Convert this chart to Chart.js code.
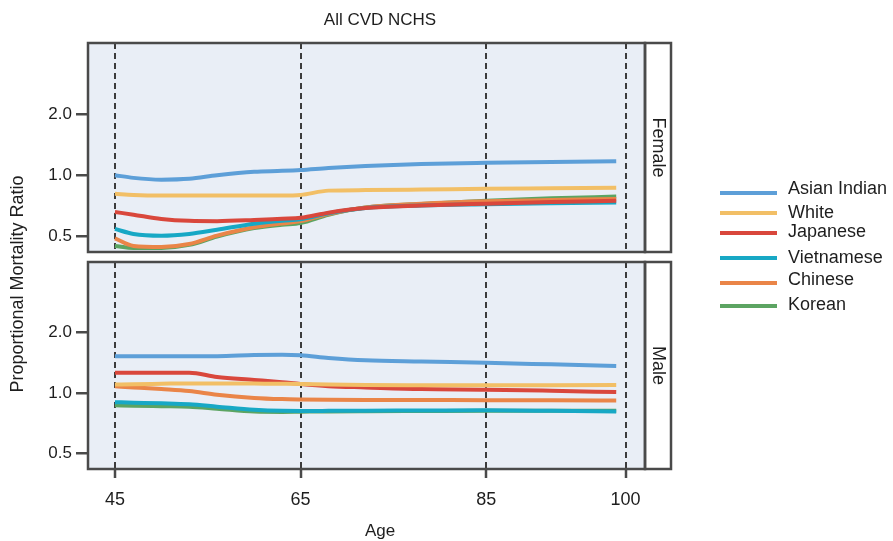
<!DOCTYPE html>
<html><head><meta charset="utf-8">
<script src="https://cdn.jsdelivr.net/npm/chart.js@4.4.1/dist/chart.umd.min.js"></script>
<style>
html,body{margin:0;padding:0;background:#fff;}
#wrap{position:relative;width:893px;height:541px;overflow:hidden;}
canvas{position:absolute;left:0;top:0;}
</style></head><body>
<div id="wrap"><canvas id="cMale" width="893" height="541"></canvas><canvas id="cFemale" width="893" height="541"></canvas></div>
<script>
// ---- data ----
const chartTitle = 'All CVD NCHS';
const xTitle = 'Age';
const yTitle = 'Proportional Mortality Ratio';
const panelLabels = ['Female', 'Male'];
const groups = ['Asian Indian', 'White', 'Japanese', 'Vietnamese', 'Chinese', 'Korean'];
const ages = [45, 47, 50, 53, 56, 60, 63, 65, 68, 72, 78, 85, 92, 99];
const xTicks = [45, 65, 85, 100];
const yTicks = [0.5, 1.0, 2.0];

const femaleAsianIndian = [1.00, 0.97, 0.951, 0.96, 1.00, 1.04, 1.05, 1.06, 1.085, 1.11, 1.135, 1.15, 1.16, 1.17];
const femaleWhite       = [0.81, 0.80, 0.795, 0.795, 0.795, 0.795, 0.795, 0.80, 0.84, 0.845, 0.85, 0.857, 0.862, 0.867];
const femaleJapanese    = [0.66, 0.64, 0.61, 0.597, 0.595, 0.603, 0.612, 0.618, 0.655, 0.69, 0.71, 0.725, 0.738, 0.75];
const femaleVietnamese  = [0.545, 0.515, 0.505, 0.515, 0.54, 0.578, 0.598, 0.608, 0.65, 0.69, 0.71, 0.72, 0.728, 0.735];
const femaleChinese     = [0.49, 0.45, 0.445, 0.46, 0.505, 0.555, 0.58, 0.595, 0.645, 0.695, 0.725, 0.745, 0.755, 0.765];
const femaleKorean      = [0.45, 0.44, 0.44, 0.455, 0.50, 0.55, 0.572, 0.583, 0.64, 0.694, 0.722, 0.75, 0.77, 0.785];

const maleAsianIndian = [1.52, 1.52, 1.52, 1.52, 1.52, 1.54, 1.545, 1.535, 1.49, 1.45, 1.43, 1.41, 1.385, 1.36];
const maleWhite       = [1.10, 1.105, 1.11, 1.115, 1.115, 1.112, 1.11, 1.108, 1.10, 1.095, 1.092, 1.09, 1.092, 1.094];
const maleJapanese    = [1.26, 1.26, 1.26, 1.26, 1.20, 1.16, 1.13, 1.106, 1.08, 1.065, 1.045, 1.038, 1.025, 1.01];
const maleVietnamese  = [0.90, 0.895, 0.888, 0.878, 0.855, 0.825, 0.815, 0.814, 0.815, 0.817, 0.818, 0.82, 0.815, 0.808];
const maleChinese     = [1.078, 1.065, 1.045, 1.022, 0.98, 0.945, 0.932, 0.928, 0.925, 0.923, 0.922, 0.921, 0.92, 0.918];
const maleKorean      = [0.868, 0.865, 0.86, 0.855, 0.835, 0.808, 0.805, 0.807, 0.81, 0.812, 0.814, 0.816, 0.816, 0.817];

const femaleSeries = [femaleAsianIndian, femaleWhite, femaleJapanese, femaleVietnamese, femaleChinese, femaleKorean];
const maleSeries   = [maleAsianIndian, maleWhite, maleJapanese, maleVietnamese, maleChinese, maleKorean];

// ---- styles ----
const colors = ['#5d9fd8', '#f2bf66', '#d9473c', '#17a8c5', '#ea8548', '#5ca462'];
const FONT = '"Liberation Sans", Arial, Helvetica, sans-serif';
const textColor = '#1e1e1e';
const frameColor = '#4a4a4a';
const panelFill = '#e9eef6';
const dashColor = '#3c3c3c';
const W = 893, H = 541;
const plotLeft = 88, plotRight = 645, stripW = 26;
const femaleTop = 43, femaleBottom = 252, maleTop = 262, maleBottom = 469;
const xMin = 42.1, xMax = 102.1, yMin = 0.42, yMax = 4.45;
const legendLineX = [720, 777], legendTextX = 788;
const legendLineY = [193, 213, 233, 258, 283, 306];
const legendTextY = [189, 213, 232, 258, 280, 305];

function makeDatasets(series) {
  return groups.map((g, i) => ({
    label: g,
    data: ages.map((a, k) => ({x: a, y: series[i][k]})),
    borderColor: colors[i],
    backgroundColor: colors[i],
    borderWidth: 4,
    pointRadius: 0,
    fill: false,
    cubicInterpolationMode: 'monotone'
  }));
}

function panelPlugin(label) {
  return {
    id: 'panel_' + label,
    beforeDraw(chart) {
      const a = chart.chartArea, ctx = chart.ctx;
      ctx.save();
      ctx.fillStyle = panelFill;
      ctx.fillRect(a.left, a.top, a.right - a.left, a.bottom - a.top);
      ctx.restore();
    },
    afterDraw(chart) {
      const a = chart.chartArea, ctx = chart.ctx;
      ctx.save();
      ctx.fillStyle = '#ffffff';
      ctx.fillRect(a.right, a.top, stripW, a.bottom - a.top);
      ctx.strokeStyle = frameColor;
      ctx.lineWidth = 2.5;
      ctx.strokeRect(a.left, a.top, a.right - a.left, a.bottom - a.top);
      ctx.strokeRect(a.right, a.top, stripW, a.bottom - a.top);
      ctx.translate(a.right + stripW / 2, (a.top + a.bottom) / 2);
      ctx.rotate(Math.PI / 2);
      ctx.fillStyle = textColor;
      ctx.font = '18px ' + FONT;
      ctx.textAlign = 'center';
      ctx.textBaseline = 'middle';
      ctx.fillText(label, 0, 0);
      ctx.restore();
    }
  };
}

const textPlugin = {
  id: 'texts',
  afterDraw(chart) {
    const ctx = chart.ctx;
    ctx.save();
    ctx.fillStyle = textColor;
    ctx.textAlign = 'center';
    ctx.textBaseline = 'middle';
    ctx.font = '17px ' + FONT;
    ctx.fillText(chartTitle, 380, 20);
    ctx.font = '17px ' + FONT;
    ctx.fillText(xTitle, 380, 531);
    ctx.save();
    ctx.translate(18, 284);
    ctx.rotate(-Math.PI / 2);
    ctx.font = '18px ' + FONT;
    ctx.fillText(yTitle, 0, 0);
    ctx.restore();
    // legend
    ctx.font = '18px ' + FONT;
    ctx.textAlign = 'left';
    chart.data.datasets.forEach((ds, i) => {
      ctx.strokeStyle = ds.borderColor;
      ctx.lineWidth = 4;
      ctx.beginPath();
      ctx.moveTo(legendLineX[0], legendLineY[i]);
      ctx.lineTo(legendLineX[1], legendLineY[i]);
      ctx.stroke();
      ctx.fillStyle = textColor;
      ctx.fillText(ds.label, legendTextX, legendTextY[i]);
    });
    ctx.restore();
  }
};

function yScale() {
  return {
    type: 'logarithmic',
    position: 'left',
    min: yMin, max: yMax,
    afterBuildTicks: s => { s.ticks = yTicks.map(v => ({value: v})); },
    afterFit: s => { s.width = plotLeft; },
    ticks: { callback: v => Number(v).toFixed(1), font: {size: 17, family: FONT}, color: textColor, padding: 4 },
    grid: { drawOnChartArea: false, drawTicks: true, tickLength: 12, color: frameColor, lineWidth: 2.5 },
    border: { display: false }
  };
}

function xScale(showTicks) {
  return {
    type: 'linear',
    position: 'bottom',
    min: xMin, max: xMax,
    afterBuildTicks: s => { s.ticks = xTicks.map(v => ({value: v})); },
    afterFit: s => { s.height = showTicks ? (H - maleBottom) : 0; },
    ticks: { display: showTicks, callback: v => String(v), font: {size: 18, family: FONT}, color: textColor, padding: 11, maxRotation: 0 },
    grid: { drawOnChartArea: true, drawTicks: showTicks, tickLength: 9, tickWidth: 2.5, tickColor: frameColor, tickBorderDash: [], color: dashColor, lineWidth: 2 },
    border: { display: false, dash: [6, 4] }
  };
}

function baseOptions(top, bottomPad, showX) {
  return {
    responsive: false,
    animation: false,
    events: [],
    layout: { padding: { left: 0, top: top, right: W - plotRight, bottom: bottomPad } },
    plugins: { legend: { display: false }, title: { display: false }, tooltip: { enabled: false } },
    scales: { x: xScale(showX), y: yScale() }
  };
}

new Chart(document.getElementById('cMale'), {
  type: 'line',
  data: { datasets: makeDatasets(maleSeries) },
  options: baseOptions(maleTop, 0, true),
  plugins: [panelPlugin(panelLabels[1]), textPlugin]
});

new Chart(document.getElementById('cFemale'), {
  type: 'line',
  data: { datasets: makeDatasets(femaleSeries) },
  options: baseOptions(femaleTop, H - femaleBottom, false),
  plugins: [panelPlugin(panelLabels[0])]
});
</script>
</body></html>
